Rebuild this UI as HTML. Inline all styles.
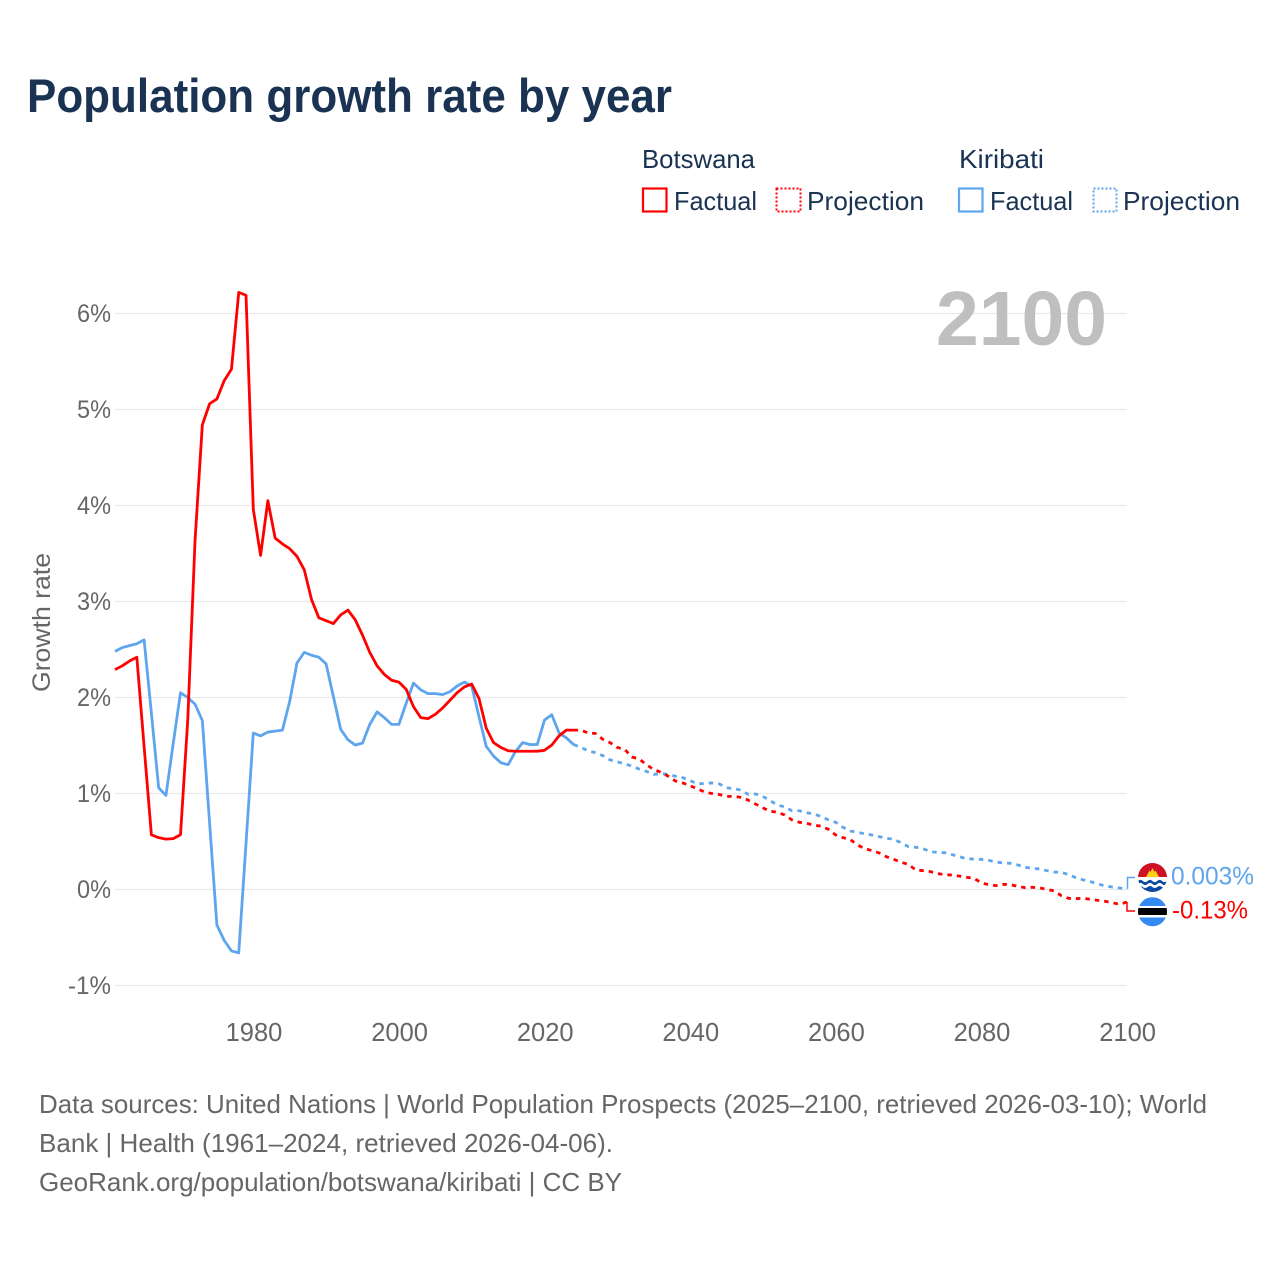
<!DOCTYPE html>
<html lang="en">
<head>
<meta charset="utf-8">
<title>Population growth rate by year</title>
<style>
html,body{margin:0;padding:0;background:#fff;}
svg{display:block;font-family:"Liberation Sans",sans-serif;}
</style>
</head>
<body>
<svg id="chart" xmlns="http://www.w3.org/2000/svg" width="1280" height="1280" viewBox="0 0 1280 1280">
  <defs>
    <clipPath id="clip-ki"><circle cx="1152.5" cy="877.5" r="14.5"/></clipPath>
    <clipPath id="clip-bw"><circle cx="1152.5" cy="911.7" r="14.5"/></clipPath>
  </defs>
  <text x="27" y="112" font-size="47" font-weight="700" fill="#1a3353" textLength="645" lengthAdjust="spacingAndGlyphs">Population growth rate by year</text>

  <g font-size="26" fill="#1a3353">
    <text x="642" y="168" textLength="113" lengthAdjust="spacingAndGlyphs">Botswana</text>
    <text x="959" y="168" textLength="85" lengthAdjust="spacingAndGlyphs">Kiribati</text>
    <rect x="643" y="188.5" width="23.5" height="23" fill="none" stroke="#ff0000" stroke-width="2.2"/>
    <text x="674" y="210" textLength="83" lengthAdjust="spacingAndGlyphs">Factual</text>
    <rect x="776.5" y="188.5" width="24" height="23" fill="none" stroke="#ff0000" stroke-width="2" stroke-dasharray="2 2"/>
    <text x="807" y="210" textLength="117" lengthAdjust="spacingAndGlyphs">Projection</text>
    <rect x="959" y="188.5" width="23.5" height="23" fill="none" stroke="#5ea5ee" stroke-width="2.2"/>
    <text x="990" y="210" textLength="83" lengthAdjust="spacingAndGlyphs">Factual</text>
    <rect x="1093.5" y="188.5" width="23" height="23" fill="none" stroke="#5ea5ee" stroke-width="2" stroke-dasharray="2 2"/>
    <text x="1123" y="210" textLength="117" lengthAdjust="spacingAndGlyphs">Projection</text>
  </g>

  <g id="grid"></g>
  <text x="936" y="345" font-size="77" font-weight="700" fill="#bfbfbf" textLength="171" lengthAdjust="spacingAndGlyphs">2100</text>
  <g id="yticks" font-size="25" fill="#666666" text-anchor="end"></g>
  <g id="xticks" font-size="25.5" fill="#666666" text-anchor="middle"></g>
  <text transform="translate(50 622.5) rotate(-90)" font-size="25" fill="#666666" text-anchor="middle" textLength="139" lengthAdjust="spacingAndGlyphs">Growth rate</text>
  <g id="series"></g>

  <g clip-path="url(#clip-ki)">
    <rect x="1138" y="863" width="29" height="15" fill="#ce1126"/>
    <path d="M1146 877 L1149.5 870.5 L1150.5 872 L1152.5 868 L1154.5 872 L1155.5 870.5 L1159 877 Z" fill="#fcd116"/>
    <rect x="1138" y="877" width="29" height="15" fill="#ffffff"/>
    <path d="M1138 881q2.4-2.2 4.8 0t4.8 0t4.8 0t4.8 0t4.8 0t4.8 0v3q-2.4 2.2-4.8 0t-4.8 0t-4.8 0t-4.8 0t-4.8 0t-4.8 0z" fill="#0a4aa0"/>
    <path d="M1138 887q2.4-2 4.8 0t4.8 0t4.8 0t4.8 0t4.8 0t4.8 0v6h-29z" fill="#0a4aa0"/>
  </g>
  <g clip-path="url(#clip-bw)">
    <rect x="1138" y="897" width="29" height="30" fill="#338af3"/>
    <rect x="1138" y="906" width="29" height="11.5" fill="#ffffff"/>
    <rect x="1138" y="908" width="29" height="7" fill="#000000"/>
  </g>
  <g id="end-labels" font-size="25"></g>

  <g font-size="26" fill="#666666">
    <text x="39" y="1113" textLength="1168" lengthAdjust="spacingAndGlyphs">Data sources: United Nations | World Population Prospects (2025–2100, retrieved 2026-03-10); World</text>
    <text x="39" y="1152" textLength="574" lengthAdjust="spacingAndGlyphs">Bank | Health (1961–2024, retrieved 2026-04-06).</text>
    <text x="39" y="1191" textLength="583" lengthAdjust="spacingAndGlyphs">GeoRank.org/population/botswana/kiribati | CC BY</text>
  </g>
</svg>
<script>
const firstYear = 1961;
const lastFactualYear = 2024;
const xTickYears = [1980, 2000, 2020, 2040, 2060, 2080, 2100];
const yTickValues = [-1, 0, 1, 2, 3, 4, 5, 6];
const yTickLabels = ["-1%", "0%", "1%", "2%", "3%", "4%", "5%", "6%"];
const endLabels = ["0.003%", "-0.13%"];
const botswanaValues = [
  2.29,2.33,2.38,2.42,1.49,0.57,0.54,0.525,0.53,0.57,
  1.77,3.64,4.84,5.06,5.11,5.30,5.42,6.22,6.19,3.96,
  3.48,4.05,3.66,3.60,3.55,3.47,3.33,3.02,2.83,2.80,
  2.77,2.86,2.91,2.81,2.65,2.47,2.33,2.24,2.18,2.16,
  2.085,1.905,1.79,1.78,1.825,1.89,1.97,2.05,2.11,2.14,
  1.99,1.68,1.53,1.48,1.445,1.44,1.44,1.44,1.44,1.45,
  1.505,1.60,1.66,1.66,
  1.66,1.63,1.625,1.565,1.53,1.48,1.46,1.38,1.36,1.30,
  1.25,1.22,1.18,1.13,1.11,1.08,1.05,1.015,1.00,0.99,
  0.97,0.97,0.96,0.93,0.89,0.85,0.815,0.805,0.775,0.725,
  0.70,0.69,0.67,0.66,0.627,0.568,0.54,0.52,0.464,0.425,
  0.405,0.38,0.34,0.314,0.283,0.262,0.203,0.196,0.186,0.165,
  0.155,0.15,0.14,0.127,0.116,0.07,0.05,0.04,0.054,0.05,
  0.033,0.019,0.023,0.016,0.002,-0.015,-0.064,-0.092,-0.095,-0.092,
  -0.102,-0.113,-0.123,-0.137,-0.155,-0.13
];
const kiribatiValues = [
  2.48,2.52,2.54,2.56,2.60,1.84,1.06,0.98,1.52,2.05,
  2.00,1.93,1.76,0.69,-0.37,-0.53,-0.64,-0.66,0.48,1.63,
  1.60,1.64,1.65,1.66,1.96,2.36,2.47,2.44,2.42,2.35,
  2.01,1.67,1.56,1.505,1.525,1.72,1.85,1.79,1.72,1.72,
  1.94,2.15,2.08,2.04,2.04,2.03,2.06,2.12,2.16,2.12,
  1.80,1.49,1.39,1.32,1.30,1.435,1.53,1.51,1.51,1.765,
  1.82,1.63,1.58,1.51,
  1.48,1.445,1.425,1.395,1.35,1.33,1.31,1.285,1.255,1.23,
  1.20,1.205,1.20,1.18,1.165,1.135,1.10,1.105,1.11,1.10,
  1.06,1.05,1.035,0.99,0.995,0.97,0.925,0.88,0.86,0.82,
  0.82,0.80,0.786,0.76,0.725,0.70,0.648,0.61,0.595,0.58,
  0.568,0.55,0.533,0.523,0.485,0.446,0.44,0.425,0.394,0.387,
  0.383,0.363,0.342,0.32,0.318,0.314,0.304,0.287,0.276,0.273,
  0.256,0.232,0.22,0.214,0.196,0.182,0.179,0.155,0.123,0.10,
  0.082,0.058,0.037,0.026,0.016,0.003
];

const SVGNS = 'http://www.w3.org/2000/svg';
const RED = '#ff0000';
const BLUE = '#5ea5ee';
function xScale(year) { return 253.3 + (year - 1980) * 7.28; }
function yScale(v) { return 889.5 - v * 96; }
function make(tag, attrs, parent, text) {
  const el = document.createElementNS(SVGNS, tag);
  for (const k in attrs) el.setAttribute(k, attrs[k]);
  if (text !== undefined) el.textContent = text;
  parent.appendChild(el);
  return el;
}
function pointsFor(values, from, to) {
  const pts = [];
  values.forEach(function (v, i) {
    const yr = firstYear + i;
    if (yr >= from && yr <= to) pts.push(xScale(yr).toFixed(2) + ',' + yScale(v).toFixed(2));
  });
  return pts.join(' ');
}

const gridG = document.getElementById('grid');
const yG = document.getElementById('yticks');
yTickValues.forEach(function (v, i) {
  const line = make('line', { x1: 115, x2: 1127, y1: yScale(v), y2: yScale(v), stroke: '#e9e9e9', 'stroke-width': 1.2 }, gridG);
  
  
  const lab = yTickLabels[i];
  const t = make('text', { x: 111, y: yScale(v) + 8.5, textLength: 34 + 9 * (lab.length - 2), lengthAdjust: 'spacingAndGlyphs' }, yG, lab);
  
  
});

const xG = document.getElementById('xticks');
xTickYears.forEach(function (yr) {
  const t = make('text', { x: xScale(yr) + 0.7, y: 1041 }, xG, String(yr));
  
  
});

const seriesG = document.getElementById('series');
const lastYear = firstYear + botswanaValues.length - 1;
function drawSeries(values, color, name) {
  const proj = make('polyline', { points: pointsFor(values, lastFactualYear, lastYear), fill: 'none', stroke: color, 'stroke-width': 2.8, 'stroke-dasharray': '4.5 5', 'stroke-linejoin': 'round' }, seriesG);
  
  
  const fact = make('polyline', { points: pointsFor(values, firstYear, lastFactualYear), fill: 'none', stroke: color, 'stroke-width': 2.8, 'stroke-linejoin': 'round' }, seriesG);
  
  
}
drawSeries(kiribatiValues, BLUE, 'kiribati');
drawSeries(botswanaValues, RED, 'botswana');

const kEnd = yScale(kiribatiValues[kiribatiValues.length - 1]);
const bEnd = yScale(botswanaValues[botswanaValues.length - 1]);
const c1 = make('polyline', { points: '1127.5,' + kEnd + ' 1127.5,877.5 1135,877.5', fill: 'none', stroke: BLUE, 'stroke-width': 1.5 }, seriesG);


const c2 = make('polyline', { points: '1127,' + bEnd + ' 1127,911 1135,911', fill: 'none', stroke: RED, 'stroke-width': 1.5 }, seriesG);



const endG = document.getElementById('end-labels');
const kLab = make('text', { x: 1171, y: 884.5, fill: BLUE, textLength: 83, lengthAdjust: 'spacingAndGlyphs' }, endG, endLabels[0]);


const bLab = make('text', { x: 1172, y: 918.5, fill: RED, textLength: 76, lengthAdjust: 'spacingAndGlyphs' }, endG, endLabels[1]);


</script>
</body>
</html>
